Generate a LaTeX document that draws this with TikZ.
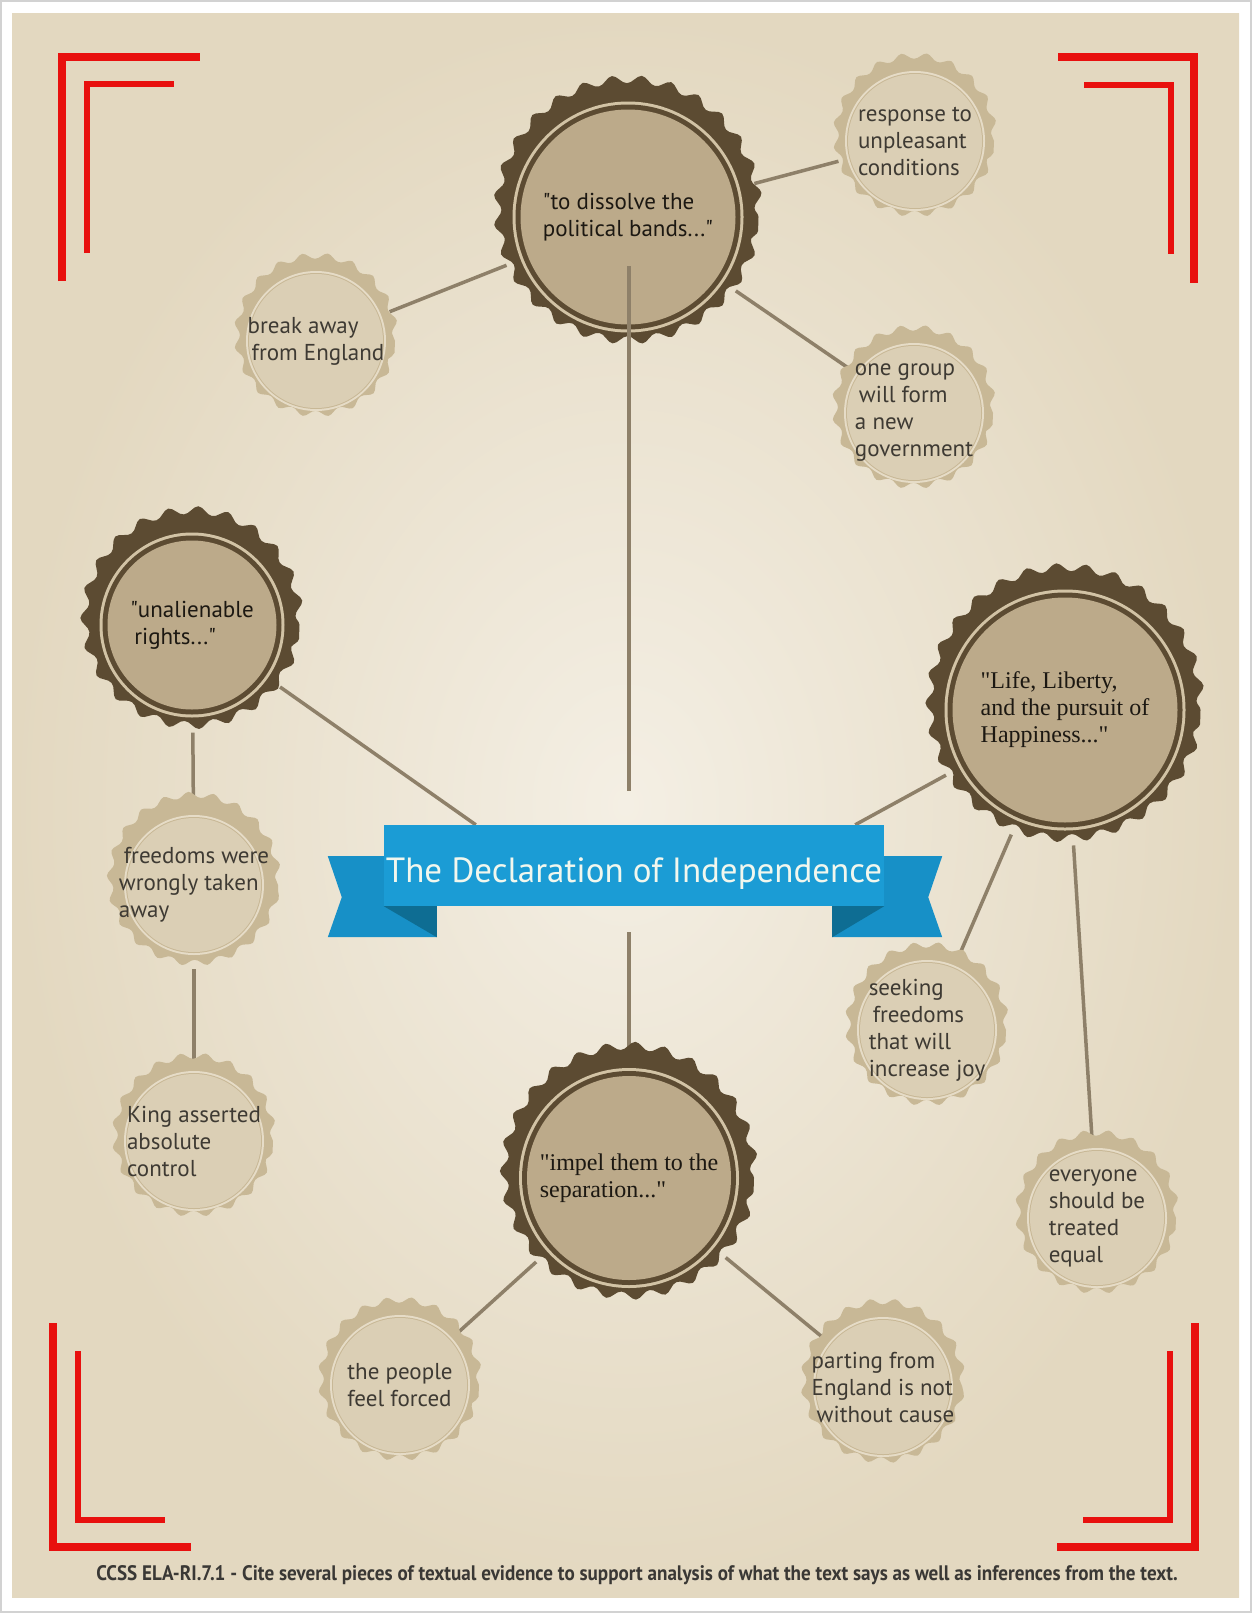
\documentclass[tikz,border=0pt]{standalone}
\usepackage{fontspec}
\setmainfont{PT Sans}
\newfontfamily\quoteserifface{Liberation Serif}
\usetikzlibrary{decorations.pathmorphing}

\definecolor{paperlight}{HTML}{F4EFE4}
\definecolor{paperdark}{HTML}{E3D8C0}
\definecolor{framegray}{HTML}{D2D2D2}
\definecolor{cornerred}{HTML}{E8100E}
\definecolor{linkcol}{HTML}{8E8069}
\definecolor{sealdark}{HTML}{5C4B32}
\definecolor{sealring}{HTML}{D2C3A5}
\definecolor{sealfill}{HTML}{BCAA8A}
\definecolor{quoteink}{HTML}{1C1812}
\definecolor{notedark}{HTML}{C8B896}
\definecolor{notering}{HTML}{E6DCC7}
\definecolor{notefill}{HTML}{DBCFB5}
\definecolor{noteink}{HTML}{3E3A33}
\definecolor{bannerblue}{HTML}{1B9CD5}
\definecolor{bannertail}{HTML}{1790C7}
\definecolor{bannerfold}{HTML}{0E6D93}
\definecolor{titleink}{HTML}{F1F7EE}
\definecolor{captionink}{HTML}{3A3835}

\newcommand\quotesans{\fontsize{23}{27}\selectfont}
\newcommand\quoteserif{\quoteserifface\fontsize{24}{27}\selectfont}
\newcommand\badgefont{\fontsize{23}{27}\selectfont}
\newcommand\bannerfont{\fontsize{35}{38}\selectfont}
\newcommand\captionfont{\fontsize{21}{24}\selectfont\bfseries}
\newcommand\dq{\textquotedbl}

\pgfdeclarelayer{paper}
\pgfdeclarelayer{links}
\pgfsetlayers{paper,links,main}

\tikzset{
  linkline/.style={draw=linkcol, line width=3.5pt},
  redbar/.style={draw=cornerred, line width=#1},
  bigseal/.style={circle, inner sep=0pt, minimum size=2*#1, align=left,
    text=quoteink, font=\quotesans,
    preaction={fill=sealdark, decorate,
      decoration={snake, amplitude=4pt,
        segment length={2*pi*#1/(round(2*pi*#1/29)+0.1)}}},
    path picture={
      \fill[sealring] (path picture bounding box.center) circle[radius={#1pt-15pt}];
      \fill[sealdark] (path picture bounding box.center) circle[radius={#1pt-18pt}];
      \fill[sealfill] (path picture bounding box.center) circle[radius={#1pt-23pt}];
    }},
  notebadge/.style={circle, inner sep=0pt, minimum size=158, align=left,
    text=noteink, font=\badgefont,
    preaction={fill=notedark, decorate,
      decoration={snake, amplitude=3pt, segment length={2*pi*79/20.1}}},
    path picture={
      \fill[notering] (path picture bounding box.center) circle[radius=70pt];
      \fill[notedark] (path picture bounding box.center) circle[radius=68pt];
      \fill[notefill] (path picture bounding box.center) circle[radius=67pt];
    }},
  titlebar/.style={fill=bannerblue, minimum width=500, minimum height=81,
    inner sep=0pt, text height=33pt, text depth=0pt, text=titleink, font=\bannerfont},
}

\begin{document}
\begin{tikzpicture}[x=1pt, y=-1pt]
  \useasboundingbox (0,0) rectangle (1254,1614);

  % paper and red corners
  \begin{pgfonlayer}{paper}
    \fill[white] (0,0) rectangle (1254,1614);
    \draw[framegray, line width=2pt] (1,1) rectangle (1251,1612);
    \shade[inner color=paperlight, outer color=paperdark] (12,13) rectangle (1239,1597);
    \draw[redbar=8pt] (61.5,281) -- (61.5,57) -- (200,57);
    \draw[redbar=6pt] (87,253) -- (87,84) -- (174,84);
    \draw[redbar=8pt] (1058,57) -- (1194,57) -- (1194,283);
    \draw[redbar=6pt] (1084,85) -- (1171,85) -- (1171,254);
    \draw[redbar=8pt] (53,1323) -- (53,1546.5) -- (191,1546.5);
    \draw[redbar=6pt] (78,1351) -- (78,1519.5) -- (165,1519.5);
    \draw[redbar=8pt] (1057,1546.5) -- (1195,1546.5) -- (1195,1323);
    \draw[redbar=6pt] (1083,1519.5) -- (1170,1519.5) -- (1170,1351);
  \end{pgfonlayer}

  % quotes
  \node[bigseal=130.5] (dissolve) at (628,217) {\dq to dissolve the\\political bands...\dq};
  \node[bigseal=107.5] (unalienable) at (192,625) {\dq unalienable\\\hspace*{4pt}rights...\dq};
  \node[bigseal=135.5, font=\quoteserif] (life) at (1065,710)
    {"Life, Liberty,\\and the pursuit of\\Happiness..."\hspace*{14pt}};
  \node[bigseal=125, font=\quoteserif] (impel) at (629,1178)
    {"impel them to the\\separation..."};

  % notes
  \node[notebadge] (response) at (915,141) {response to\\unpleasant\\conditions};
  \node[notebadge] (breakaway) at (316,341) {break away\\\hspace*{4pt}from England};
  \node[notebadge] (onegroup) at (914,413) {one group\\\hspace*{4pt}will form\\a new\\government};
  \node[notebadge] (freedoms) at (194,885) {\hspace*{5pt}freedoms were\\wrongly taken\\away};
  \node[notebadge] (king) at (194,1141) {King asserted\\absolute\\control};
  \node[notebadge] (seeking) at (927,1030) {seeking\\\hspace*{4pt}freedoms\\that will\\increase joy};
  \node[notebadge] (everyone) at (1097,1218) {everyone\\should be\\treated\\equal};
  \node[notebadge] (people) at (400,1385) {the people\\feel forced};
  \node[notebadge] (parting) at (883,1387) {parting from\\England is not\\\hspace*{5pt}without cause};

  % banner
  \node[titlebar] (title) at (634,865.5) {The Declaration of Independence};

  \node[font=\captionfont, text=captionink, inner sep=0pt] (ccss) at (637,1575)
    {\scalebox{0.91}[1]{CCSS ELA-RI.7.1 - Cite several pieces of textual evidence to support analysis of what the text says as well as inferences from the text.}};

  \begin{pgfonlayer}{links}
    \draw[linkline] (dissolve) -- (response);
    \draw[linkline] (dissolve) -- (breakaway);
    \draw[linkline] (dissolve) -- (onegroup);
    \draw[linkline] (unalienable) -- ([xshift=92pt]title.north west);
    \draw[linkline] (unalienable) -- (freedoms);
    \draw[linkline] (freedoms) -- (king);
    \draw[linkline] (life) -- ([xshift=-29pt]title.north east);
    \draw[linkline] (life) -- (seeking);
    \draw[linkline] (life) -- (everyone);
    \draw[linkline] ([xshift=-5pt,yshift=-26pt]title.south) -- (impel);
    \draw[linkline] (impel) -- (people);
    \draw[linkline] (impel) -- (parting);
    % ribbon ends
    \fill[bannertail] ([xshift=-56pt,yshift=50pt]title.south west) -- ([xshift=53pt,yshift=50pt]title.south west)
      -- ([xshift=53pt,yshift=-31pt]title.south west) -- ([xshift=-56pt,yshift=-31pt]title.south west)
      -- ([xshift=-42pt,yshift=9pt]title.south west) -- cycle;
    \fill[bannerfold] (title.south west) -- ([xshift=53pt]title.south west)
      -- ([xshift=53pt,yshift=-31pt]title.south west) -- cycle;
    \fill[bannertail] ([xshift=-52pt,yshift=50pt]title.south east) -- ([xshift=58pt,yshift=50pt]title.south east)
      -- ([xshift=44pt,yshift=9pt]title.south east) -- ([xshift=58pt,yshift=-31pt]title.south east)
      -- ([xshift=-52pt,yshift=-31pt]title.south east) -- cycle;
    \fill[bannerfold] (title.south east) -- ([xshift=-52pt]title.south east)
      -- ([xshift=-52pt,yshift=-31pt]title.south east) -- cycle;
  \end{pgfonlayer}

  \draw[linkline] ([xshift=1pt,yshift=-49pt]dissolve.center) -- ([xshift=-5pt,yshift=34pt]title.north);
\end{tikzpicture}
\end{document}
